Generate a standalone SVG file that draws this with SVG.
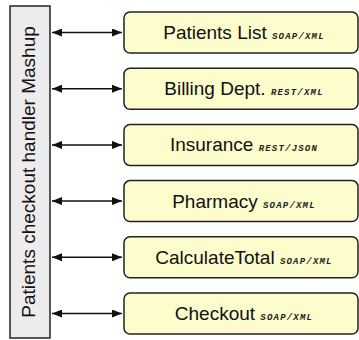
<svg xmlns="http://www.w3.org/2000/svg" width="359" height="340" viewBox="0 0 359 340">
<defs>
<marker id="ah" viewBox="0 0 10 8" refX="10" refY="4" markerWidth="10" markerHeight="8" markerUnits="userSpaceOnUse" orient="auto-start-reverse">
<path d="M0,0 L10,4 L0,8 Z" fill="#111"/>
</marker>
</defs>
<style>
.box{fill:#fdfccc;stroke:#222;stroke-width:1.5}
.main{font-family:"Liberation Sans",Arial,sans-serif;font-size:19px;fill:#111}
.tag{font-family:"Liberation Mono","Courier New",monospace;font-size:9px;font-style:italic;font-weight:bold;letter-spacing:1.2px;fill:#222}
.conn{stroke:#111;stroke-width:1.5;fill:none;marker-start:url(#ah);marker-end:url(#ah)}
</style>
<g id="mashup">
<rect x="10" y="6" width="40" height="332" fill="#ececec" stroke="#222" stroke-width="1.5"/>
<text class="main" transform="translate(34.5,172) rotate(-90)" text-anchor="middle" font-size="19.5">Patients checkout handler Mashup</text>
</g>
<g id="connectors">
<line class="conn" x1="52" y1="32.5" x2="122" y2="32.5"/>
<line class="conn" x1="52" y1="88.7" x2="122" y2="88.7"/>
<line class="conn" x1="52" y1="144.9" x2="122" y2="144.9"/>
<line class="conn" x1="52" y1="201.1" x2="122" y2="201.1"/>
<line class="conn" x1="52" y1="257.3" x2="122" y2="257.3"/>
<line class="conn" x1="52" y1="313.5" x2="122" y2="313.5"/>
</g>
<g id="patients-list">
<rect class="box" x="124" y="12" width="234" height="41" rx="6"/>
<text class="main" x="244" y="39" text-anchor="middle">Patients List <tspan class="tag">SOAP/XML</tspan></text>
</g>
<g id="billing">
<rect class="box" x="124" y="68.2" width="234" height="41" rx="6"/>
<text class="main" x="244" y="95.2" text-anchor="middle">Billing Dept. <tspan class="tag">REST/XML</tspan></text>
</g>
<g id="insurance">
<rect class="box" x="124" y="124.4" width="234" height="41" rx="6"/>
<text class="main" x="244" y="151.4" text-anchor="middle">Insurance <tspan class="tag">REST/JSON</tspan></text>
</g>
<g id="pharmacy">
<rect class="box" x="124" y="180.6" width="234" height="41" rx="6"/>
<text class="main" x="244" y="207.6" text-anchor="middle">Pharmacy <tspan class="tag">SOAP/XML</tspan></text>
</g>
<g id="calculate-total">
<rect class="box" x="124" y="236.8" width="234" height="41" rx="6"/>
<text class="main" x="244" y="263.8" text-anchor="middle">CalculateTotal <tspan class="tag">SOAP/XML</tspan></text>
</g>
<g id="checkout">
<rect class="box" x="124" y="293" width="234" height="41" rx="6"/>
<text class="main" x="244" y="320" text-anchor="middle">Checkout <tspan class="tag">SOAP/XML</tspan></text>
</g>
</svg>
